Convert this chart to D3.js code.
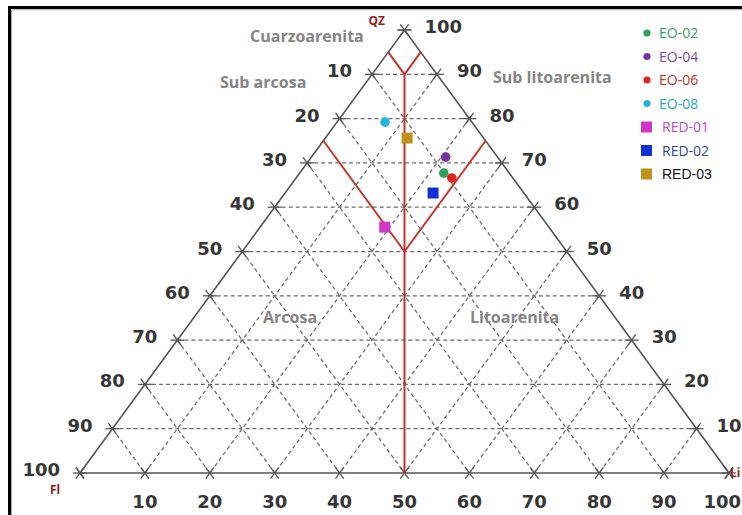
<html>
<head>
  <meta charset="utf-8">
  <title>Diagrama ternario QZ-Fl-Li</title>
  <script src="https://d3js.org/d3.v7.min.js"></script>
  <style>
    body { margin: 0; background: #fff; }
    .grid { stroke: #6a6a6a; stroke-width: 1.25; stroke-dasharray: 4,3; fill: none; }
    .tick { stroke: #555; stroke-width: 1.3; }
    .num { font-family: "DejaVu Sans", sans-serif; font-weight: bold; font-size: 18px; fill: #363636; }
    .region { font-family: "Open Sans", sans-serif; font-weight: bold; font-size: 16px; fill: #858585; }
    .vertex { font-family: "Open Sans", sans-serif; font-weight: bold; font-size: 12px; fill: #9b1c1c; }
    .leg { font-family: "Open Sans", sans-serif; font-size: 14px; }
  </style>
</head>
<body>
<script>

// sample composition (percent of QZ, Fl, Li)
var samples = ["EO-02", "EO-04", "EO-06", "EO-08", "RED-01", "RED-02", "RED-03"];
var qz = [67.7, 71.3, 66.6, 79.2, 55.5, 63.2, 75.6];
var fl = [10.1, 8.0, 9.4, 13.4, 25.3, 14.0, 11.8];
var li = [22.2, 20.7, 24.0, 7.4, 19.2, 22.8, 12.6];
var shapes = ["circle", "circle", "circle", "circle", "square", "square", "square"];
var colors = ["#2e9f5c", "#7433a0", "#e0241f", "#27b3e0", "#d236c9", "#1030d6", "#c0921a"];
var textColors = ["#35a060", "#7a4c9c", "#c0302a", "#2aaac4", "#c247c0", "#33449a", "#111"];

var gridLevels = [10, 20, 30, 40, 50, 60, 70, 80, 90];
var tickLevels = [0, 10, 20, 30, 40, 50, 60, 70, 80, 90, 100];

// Folk classification boundaries (Fl, QZ, Li)
var boundaries = [
  [[5, 95, 0], [5, 90, 5]],
  [[0, 95, 5], [5, 90, 5]],
  [[5, 90, 5], [50, 0, 50]],
  [[25, 75, 0], [25, 50, 25]],
  [[0, 75, 25], [25, 50, 25]]
];

var regions = [
  {name: "Cuarzoarenita", x: 250, y: 42},
  {name: "Sub arcosa", x: 220, y: 88},
  {name: "Sub litoarenita", x: 493, y: 83},
  {name: "Arcosa", x: 263, y: 323},
  {name: "Litoarenita", x: 470, y: 323}
];

var width = 742, height = 515;

var svg = d3.select("body").append("svg")
  .attr("width", width)
  .attr("height", height);

svg.append("rect").attr("width", width).attr("height", height).attr("fill", "#fff");

// frame (runs off the picture on right and bottom)
svg.append("path")
  .attr("d", "M9.5," + (height + 5) + " V7.5 H" + (width + 5))
  .attr("fill", "none").attr("stroke", "#000").attr("stroke-width", 3);
svg.append("path")
  .attr("d", "M11.5," + (height + 5) + " V9.8 H" + (width + 5))
  .attr("fill", "none").attr("stroke", "#aaa").attr("stroke-width", 1);

// x runs along Li + QZ/2, y along QZ
var x = d3.scaleLinear().domain([0, 100]).range([80, 729]);
var y = d3.scaleLinear().domain([0, 100]).range([473, 30]);

function pt(f, q, l) {
  var s = f + q + l;
  q = q * 100 / s; l = l * 100 / s;
  return [x(l + q / 2), y(q)];
}

var g = svg.append("g");

// dashed grid lines
var gridLines = [];
gridLevels.forEach(function(v) {
  gridLines.push([pt(100 - v, v, 0), pt(0, v, 100 - v)]);   // constant QZ
  gridLines.push([pt(v, 100 - v, 0), pt(v, 0, 100 - v)]);   // constant Fl
  gridLines.push([pt(0, 100 - v, v), pt(100 - v, 0, v)]);   // constant Li
});
g.selectAll(".grid").data(gridLines).enter().append("path")
  .attr("class", "grid")
  .attr("d", function(d) { return d3.line()(d); });

// ticks: short solid pieces of each grid direction where it meets an edge
var dirs = [
  [x(100) - x(0), 0],
  [x(50) - x(100), y(100) - y(0)],
  [x(50) - x(0), y(100) - y(0)]
];
function unit(d) { var n = Math.hypot(d[0], d[1]); return [d[0] / n, d[1] / n]; }
var ticks = [];
tickLevels.forEach(function(v) {
  [[pt(100 - v, v, 0), pt(0, v, 100 - v), unit(dirs[0])],
   [pt(v, 100 - v, 0), pt(v, 0, 100 - v), unit(dirs[1])],
   [pt(0, 100 - v, v), pt(100 - v, 0, v), unit(dirs[2])]].forEach(function(t) {
    [t[0], t[1]].forEach(function(p) {
      ticks.push([[p[0] - 7 * t[2][0], p[1] - 7 * t[2][1]], [p[0] + 7 * t[2][0], p[1] + 7 * t[2][1]]]);
    });
  });
});
g.selectAll(".tick").data(ticks).enter().append("path")
  .attr("class", "tick")
  .attr("d", function(d) { return d3.line()(d); });

// triangle outline
g.append("path")
  .attr("d", d3.line()([pt(100, 0, 0), pt(0, 100, 0), pt(0, 0, 100)]) + "Z")
  .attr("fill", "none").attr("stroke", "#555").attr("stroke-width", 1.6);

// classification lines
g.selectAll(".bound").data(boundaries).enter().append("path")
  .attr("class", "bound")
  .attr("d", function(d) { return d3.line()(d.map(function(p) { return pt(p[0], p[1], p[2]); })); })
  .attr("stroke", "#c8302c").attr("stroke-width", 2).attr("fill", "none");

// edge labels
var labels = svg.append("g");
tickLevels.filter(function(v) { return v > 0; }).forEach(function(v) {
  var pl = pt(v, 100 - v, 0);
  labels.append("text").attr("class", "num")
    .attr("x", pl[0] - 20).attr("y", pl[1] + 3)
    .attr("text-anchor", "end").text(v);
  var pr = pt(0, v, 100 - v);
  labels.append("text").attr("class", "num")
    .attr("x", pr[0] + 20).attr("y", pr[1] + 3)
    .attr("text-anchor", "start").text(v);
  var pb = pt(100 - v, 0, v);
  var last = v == 100;
  labels.append("text").attr("class", "num")
    .attr("x", last ? width - 1 : pb[0]).attr("y", pb[1] + 35)
    .attr("text-anchor", last ? "end" : "middle").text(v);
});

// vertex names
labels.append("text").attr("class", "vertex").attr("x", pt(0, 100, 0)[0] - 36).attr("y", 25).text("QZ");
labels.append("text").attr("class", "vertex").attr("x", pt(100, 0, 0)[0] - 30).attr("y", 494).text("Fl");
labels.append("text").attr("class", "vertex").attr("x", pt(0, 0, 100)[0] + 1).attr("y", 477).text("Li");

// region names
labels.selectAll(".region").data(regions).enter().append("text")
  .attr("class", "region")
  .attr("x", function(d) { return d.x; })
  .attr("y", function(d) { return d.y; })
  .text(function(d) { return d.name; });

// sample points
var pts = svg.append("g");
samples.forEach(function(s, i) {
  var p = pt(fl[i], qz[i], li[i]);
  if (shapes[i] == "circle") {
    pts.append("circle").attr("cx", p[0]).attr("cy", p[1]).attr("r", 4.8).attr("fill", colors[i]);
  } else {
    pts.append("rect").attr("x", p[0] - 5.5).attr("y", p[1] - 5.5)
      .attr("width", 11).attr("height", 11).attr("fill", colors[i]);
  }
});

// legend
var leg = svg.append("g").attr("transform", "translate(647,33)");
samples.forEach(function(s, i) {
  var row = leg.append("g").attr("transform", "translate(0," + (i * 23.5) + ")");
  if (shapes[i] == "circle") {
    row.append("circle").attr("r", 3.6).attr("fill", colors[i]);
    row.append("text").attr("class", "leg").attr("x", 12).attr("y", 5)
      .attr("fill", textColors[i]).text(s);
  } else {
    row.append("rect").attr("x", -6).attr("y", -5.5).attr("width", 11).attr("height", 11)
      .attr("fill", colors[i]);
    var t = row.append("text").attr("class", "leg").attr("x", 15).attr("y", 5)
      .attr("fill", textColors[i]).text(s);
    if (i == samples.length - 1) {
      t.style("font-family", "'Liberation Sans Narrow', 'Arial Narrow', sans-serif").style("font-stretch", "condensed");
    }
  }
});

</script>
</body>
</html>
